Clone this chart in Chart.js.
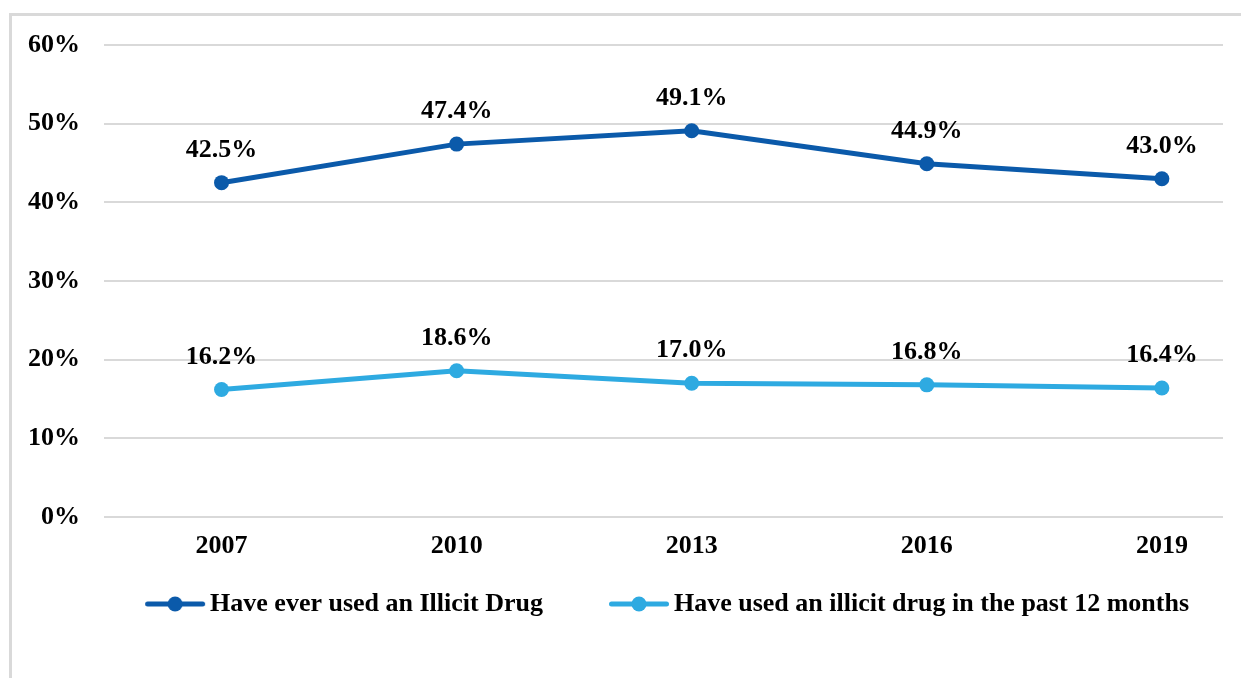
<!DOCTYPE html>
<html>
<head>
<meta charset="utf-8">
<script src="https://cdn.jsdelivr.net/npm/chart.js@4.4.1/dist/chart.umd.min.js"></script>
<style>
  html, body { margin: 0; padding: 0; background: #fff; overflow: hidden; }
  .frame {
    position: absolute; left: 9px; top: 13px; width: 1300px; height: 700px;
    border-top: 3px solid #d9d9d9; border-left: 3px solid #d9d9d9;
  }
  .container { position: absolute; left: 0; top: 0; width: 1241px; height: 678px; }
</style>
</head>
<body>
<div class="frame"></div>
<div class="container"><canvas id="chart"></canvas></div>
<script>
const years = ["2007", "2010", "2013", "2016", "2019"];
const everUsed = [42.5, 47.4, 49.1, 44.9, 43.0];
const pastYear = [16.2, 18.6, 17.0, 16.8, 16.4];
const seriesNames = ["Have ever used an Illicit Drug", "Have used an illicit drug in the past 12 months"];
const yTicks = [0, 10, 20, 30, 40, 50, 60];

const darkBlue = "#0b5aaa";
const lightBlue = "#2eaae1";
const font = { family: "'Liberation Serif', 'Times New Roman', serif", size: 26, weight: "bold" };

// line-with-dot swatch used as the legend marker (drawn on the right part of a wide image)
function makeMarker(color) {
  const c = document.createElement("canvas");
  c.width = 200;
  c.height = 20;
  const g = c.getContext("2d");
  g.strokeStyle = color;
  g.lineWidth = 5;
  g.lineCap = "round";
  g.beginPath();
  g.moveTo(92.5, 10);
  g.lineTo(147.5, 10);
  g.stroke();
  g.fillStyle = color;
  g.beginPath();
  g.arc(120, 10, 7.5, 0, Math.PI * 2);
  g.fill();
  return c;
}
const markers = [makeMarker(darkBlue), makeMarker(lightBlue)];

// value labels above every point
const pointLabels = {
  id: "pointLabels",
  afterDatasetsDraw(chart) {
    const ctx = chart.ctx;
    ctx.save();
    ctx.font = `${font.weight} ${font.size}px ${font.family}`;
    ctx.fillStyle = "#000";
    ctx.textAlign = "center";
    ctx.textBaseline = "alphabetic";
    chart.data.datasets.forEach((ds, di) => {
      chart.getDatasetMeta(di).data.forEach((pt, i) => {
        ctx.fillText(ds.data[i].y.toFixed(1) + "%", pt.x, pt.y - 26);
      });
    });
    ctx.restore();
  }
};

const toPoints = (vals) => vals.map((v, i) => ({ x: i, y: v }));

function lineSeries(label, values, color) {
  return {
    label: label,
    data: toPoints(values),
    borderColor: color,
    backgroundColor: color,
    borderWidth: 5,
    pointRadius: 7.5,
    pointHoverRadius: 7.5,
    pointBorderWidth: 0,
    tension: 0
  };
}

new Chart(document.getElementById("chart"), {
  type: "line",
  data: {
    datasets: [
      lineSeries(seriesNames[0], everUsed, darkBlue),
      lineSeries(seriesNames[1], pastYear, lightBlue)
    ]
  },
  options: {
    responsive: true,
    maintainAspectRatio: false,
    animation: false,
    layout: { padding: { top: 45, left: 0, right: 18, bottom: 51 } },
    scales: {
      x: {
        type: "linear",
        min: -0.5,
        max: 4.26,
        afterBuildTicks: (scale) => { scale.ticks = years.map((y, i) => ({ value: i })); },
        afterFit: (scale) => { scale.height = 40; },
        grid: { display: false, drawTicks: false },
        border: { display: false },
        ticks: {
          padding: 14,
          color: "#000",
          font: font,
          callback: (v) => years[v]
        }
      },
      y: {
        min: 0,
        max: 60,
        afterBuildTicks: (scale) => { scale.ticks = yTicks.map((v) => ({ value: v })); },
        afterFit: (scale) => { scale.width = 104; },
        grid: { color: "#d9d9d9", lineWidth: 2, drawTicks: false },
        border: { display: false },
        ticks: {
          padding: 24,
          color: "#000",
          font: font,
          callback: (v) => v + "%"
        }
      }
    },
    plugins: {
      tooltip: { enabled: false },
      legend: {
        position: "bottom",
        align: "end",
        fullSize: true,
        labels: {
          usePointStyle: true,
          pointStyleWidth: 84,
          padding: 34,
          color: "#000",
          font: font,
          generateLabels(chart) {
            const items = Chart.defaults.plugins.legend.labels.generateLabels(chart);
            items.forEach((it, i) => { it.pointStyle = markers[i]; });
            return items;
          }
        }
      }
    }
  },
  plugins: [pointLabels]
});
</script>
</body>
</html>
